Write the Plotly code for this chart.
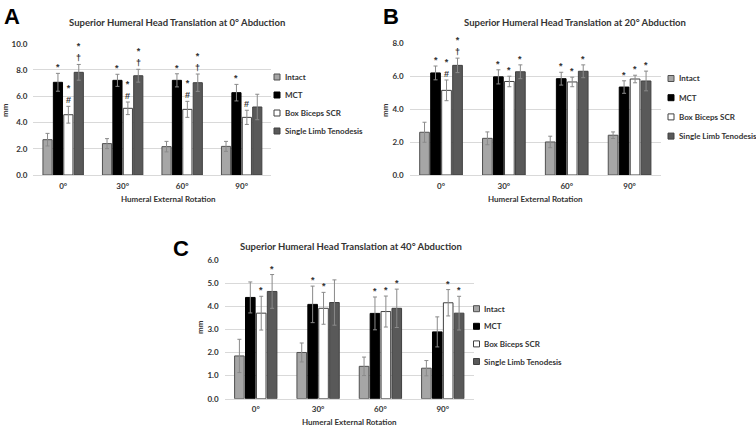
import plotly.graph_objects as go

W, H = 756, 427

rotation = ["0°", "30°", "60°", "90°"]
groups = ["Intact", "MCT", "Box Biceps SCR", "Single Limb Tenodesis"]

# panel A - 0° abduction (rows follow groups)
a_mean = [[2.69, 2.39, 2.16, 2.18],
          [7.06, 7.21, 7.21, 6.27],
          [4.59, 5.08, 5.00, 4.39],
          [7.82, 7.56, 7.03, 5.18]]
a_sd = [[0.48, 0.38, 0.40, 0.38],
        [0.68, 0.46, 0.50, 0.63],
        [0.64, 0.48, 0.61, 0.54],
        [0.60, 0.49, 0.66, 0.97]]
a_marks = [["", "", "", ""],
           ["*", "*", "*", "*"],
           ["*<br>#", "*<br>#", "*<br>#", "#"],
           ["*<br>†", "*<br>†", "*<br>†", ""]]

# panel B - 20° abduction
b_mean = [[2.60, 2.23, 2.01, 2.42],
          [6.21, 5.97, 5.86, 5.35],
          [5.15, 5.69, 5.66, 5.84],
          [6.67, 6.28, 6.31, 5.72]]
b_sd = [[0.61, 0.39, 0.35, 0.20],
        [0.42, 0.43, 0.39, 0.38],
        [0.63, 0.32, 0.29, 0.23],
        [0.44, 0.42, 0.39, 0.60]]
b_marks = [["", "", "", ""],
           ["*", "*", "*", "*"],
           ["*<br>#", "*", "*", "*"],
           ["*<br>†", "*", "*", "*"]]

# panel C - 40° abduction
c_mean = [[1.85, 2.00, 1.40, 1.32],
          [4.38, 4.08, 3.69, 2.89],
          [3.70, 3.91, 3.77, 4.15],
          [4.64, 4.16, 3.91, 3.70]]
c_sd = [[0.72, 0.41, 0.40, 0.33],
        [0.67, 0.79, 0.71, 0.65],
        [0.73, 0.69, 0.67, 0.57],
        [0.73, 0.98, 0.83, 0.73]]
c_marks = [["", "", "", ""],
           ["", "*", "*", ""],
           ["*", "*", "*", "*"],
           ["*", "", "*", "*"]]

fills = ["#a6a6a6", "#000000", "#ffffff", "#595959"]
edges = ["#505050", "#000000", "#404040", "#404040"]
TXT = "#333333"
FONT = "Lato"
BARGAP = 0.3

def px(x, y):
    return x / W, 1 - y / H

def label(xy, text, size=8, xanchor="center", **kw):
    x, y = px(*xy)
    font = kw.pop("font", dict(family=FONT, size=size, color=TXT, weight="bold"))
    return dict(x=x, y=y, xref="paper", yref="paper", text=text, showarrow=False,
                xanchor=xanchor, yanchor="middle", font=font, **kw)

# layout boxes in pixels: plot (left, top, right, bottom), labels, legend (x, y0, step)
panels = [
    dict(letter="A", mean=a_mean, sd=a_sd, marks=a_marks, ymax=10, dtick=2,
         title="Superior Humeral Head Translation at 0° Abduction",
         box=(33.4, 43.7, 271.4, 175), letter_xy=(12, 16), title_xy=(177, 22.5),
         xt_xy=(168, 199), yt_xy=(5, 110), leg=(274, 77, 18)),
    dict(letter="B", mean=b_mean, sd=b_sd, marks=b_marks, ymax=8, dtick=2,
         title="Superior Humeral Head Translation at 20° Abduction",
         box=(409.6, 43.5, 661, 175), letter_xy=(391, 16), title_xy=(575, 22.7),
         xt_xy=(535, 199), yt_xy=(385, 110), leg=(668, 78.5, 19.2)),
    dict(letter="C", mean=c_mean, sd=c_sd, marks=c_marks, ymax=6, dtick=1,
         title="Superior Humeral Head Translation at 40° Abduction",
         box=(224.6, 260, 473.9, 398.7), letter_xy=(181, 248), title_xy=(351, 246),
         xt_xy=(349.5, 421.7), yt_xy=(200, 327), leg=(473.5, 308.7, 17.6)),
]

fig = go.Figure()
annotations = []
shapes = []

for n, p in enumerate(panels):
    sfx = "" if n == 0 else str(n + 1)
    xa, ya = "x" + sfx, "y" + sfx
    for k, g in enumerate(groups):
        fig.add_trace(go.Bar(
            x=rotation, y=p["mean"][k], name=g, xaxis=xa, yaxis=ya,
            marker=dict(color=fills[k], line=dict(color=edges[k], width=1)),
            error_y=dict(type="data", array=p["sd"][k], color="#8a8a8a",
                         thickness=1, width=2),
            showlegend=False))
        # significance marks above the error bars
        for i in range(len(rotation)):
            if p["marks"][k][i]:
                annotations.append(dict(
                    x=i + (k - 1.5) * (1 - BARGAP) / 4,
                    y=p["mean"][k][i] + p["sd"][k][i],
                    xref=xa, yref=ya, text=p["marks"][k][i], showarrow=False,
                    xanchor="center", yanchor="bottom", yshift=-1,
                    font=dict(family="Liberation Sans", size=9, color=TXT,
                              weight="bold")))

    l, t, r, b = p["box"]
    x0, y1 = px(l, t)
    x1, y0 = px(r, b)
    fig.update_layout({
        "xaxis" + sfx: dict(domain=[x0, x1], anchor=ya, type="category",
                            showgrid=False, showline=True, linecolor="#d9d9d9",
                            ticks="", ticklabelstandoff=3,
                            tickfont=dict(family=FONT, size=8, color=TXT, weight="bold")),
        "yaxis" + sfx: dict(domain=[y0, y1], anchor=xa, range=[0, p["ymax"]],
                            dtick=p["dtick"], tickformat=".1f", gridcolor="#d9d9d9",
                            zeroline=False, ticks="", ticklabelstandoff=5,
                            tickfont=dict(family=FONT, size=8, color=TXT, weight="bold")),
    })

    annotations.append(label(p["letter_xy"], p["letter"],
                             font=dict(family="Liberation Sans", size=22,
                                       color="#000000", weight="bold")))
    annotations.append(label(p["title_xy"], p["title"], size=9.5))
    annotations.append(label(p["xt_xy"], "Humeral External Rotation"))
    annotations.append(label(p["yt_xy"], "mm", textangle=-90))

    # legend drawn by hand so the swatch sits close to its label
    gx, gy, step = p["leg"]
    for k, g in enumerate(groups):
        cy = gy + k * step
        sx0, sy0 = px(gx, cy + 3)
        sx1, sy1 = px(gx + 6, cy - 3)
        shapes.append(dict(type="rect", xref="paper", yref="paper",
                           x0=sx0, x1=sx1, y0=sy0, y1=sy1,
                           fillcolor=fills[k], line=dict(color=edges[k], width=1)))
        annotations.append(label((gx + 8.5, cy), g, xanchor="left"))

fig.update_layout(
    width=W, height=H,
    margin=dict(l=0, r=0, t=0, b=0, autoexpand=False),
    paper_bgcolor="white", plot_bgcolor="white",
    barmode="group", bargap=BARGAP, bargroupgap=0.12,
    annotations=annotations, shapes=shapes,
)

# drop the browser's default body margin so the figure fills the window exactly
fig.write_html("out.html", config={"displayModeBar": False},
               post_script="document.body.style.margin = '0';")
